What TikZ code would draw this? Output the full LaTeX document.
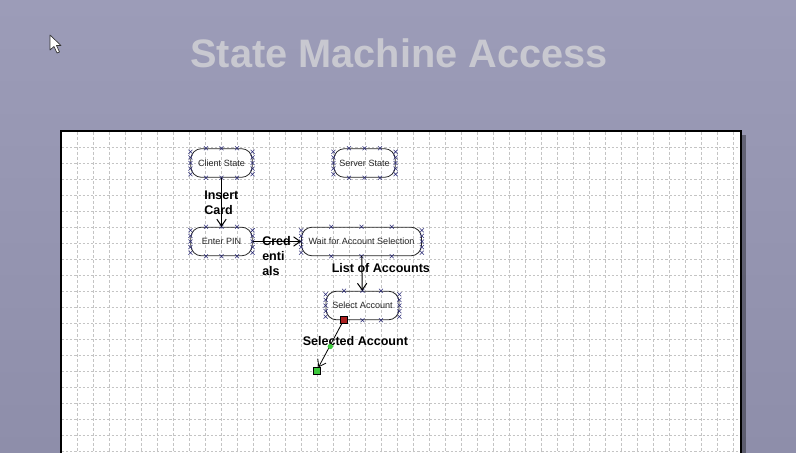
\documentclass[tikz,border=0pt]{standalone}
\usepackage{fontspec}
\setmainfont{Liberation Sans}
\usetikzlibrary{arrows.meta,calc}

\definecolor{backdrop}{RGB}{156,156,184}
\definecolor{backdropdark}{RGB}{142,142,170}
\definecolor{titlegray}{RGB}{200,200,208}
\definecolor{gridgray}{RGB}{196,196,196}
\definecolor{portblue}{RGB}{45,45,120}
\definecolor{portred}{RGB}{170,30,30}
\definecolor{portgreen}{RGB}{60,200,60}

% small connection crosses round a state
\newcommand\statemarks[1]{%
  \foreach \f in {0.25,0.5,0.75}{
    \draw[xmark] ($(#1.north west)!\f!(#1.north east)$) +(-1.5pt,-1.5pt) -- +(1.5pt,1.5pt) +(-1.5pt,1.5pt) -- +(1.5pt,-1.5pt);
    \draw[xmark] ($(#1.south west)!\f!(#1.south east)$) +(-1.5pt,-1.5pt) -- +(1.5pt,1.5pt) +(-1.5pt,1.5pt) -- +(1.5pt,-1.5pt);
  }
  \foreach \f in {0.12,0.31,0.5,0.69,0.88}{
    \draw[xmark] ($(#1.north west)!\f!(#1.south west)$) +(-1.5pt,-1.5pt) -- +(1.5pt,1.5pt) +(-1.5pt,1.5pt) -- +(1.5pt,-1.5pt);
    \draw[xmark] ($(#1.north east)!\f!(#1.south east)$) +(-1.5pt,-1.5pt) -- +(1.5pt,1.5pt) +(-1.5pt,1.5pt) -- +(1.5pt,-1.5pt);
  }}

\begin{document}
\begin{tikzpicture}[x=0.75pt,y=-0.75pt,
    state/.style={draw=black!85,line width=0.6pt,rectangle,rounded corners=8pt,
      minimum height=21.5pt,inner sep=0pt,text=black!85,font=\fontsize{6.8}{8}\selectfont},
    xmark/.style={draw=portblue,line width=0.4pt},
    trans/.style={draw=black,line width=0.75pt,-{Straight Barb[length=5pt,width=7pt]}},
    tlabel/.style={anchor=north west,inner sep=0pt,align=left,
      font=\bfseries\fontsize{9.4}{11.25}\selectfont},
    port/.style={draw=black,line width=0.4pt,minimum size=5pt,inner sep=0pt}]
  \useasboundingbox (0,0) rectangle (796,453);
  % backdrop and title
  \shade[top color=backdrop,bottom color=backdropdark] (0,0) rectangle (796,453);
  \node[text=titlegray,font=\bfseries\fontsize{29.8}{34}\selectfont] (title) at (399,53) {State Machine Access};
  % mouse pointer
  \draw[fill=white,draw=black!80,line width=0.5pt,line join=round]
    (50,35) -- (50,50) -- (54,46.5) -- (57,53) -- (59.5,52) -- (56.5,45.5) -- (61,45.5) -- cycle;
  % canvas with its shadow and grid
  \fill[black,opacity=0.35] (741,135) rectangle (746,453);
  \fill[white] (61,131) rectangle (741,460);
  \foreach \gx in {77,93,...,733}
    \draw[gridgray,line width=0.35pt,dash pattern=on 2.2pt off 1.5pt] (\gx,132) -- (\gx,453);
  \foreach \gy in {147,163,...,451}
    \draw[gridgray,line width=0.35pt,dash pattern=on 1.6pt off 1.5pt] (62,\gy) -- (740,\gy);
  \draw[black,line width=0.8pt] (61,460) -- (61,131) -- (741,131) -- (741,460);

  % states
  \node[state,minimum width=46pt] (client) at (221.5,163) {Client State};
  \node[state,minimum width=46pt] (server) at (364.5,163) {Server State};
  \node[state,minimum width=46pt] (pin) at (221.5,241.5) {Enter PIN};
  \node[state,minimum width=90pt] (wait) at (361.5,241.5) {Wait for Account Selection};
  \node[state,minimum width=54.75pt] (select) at (362.5,305.5) {Select Account};
  \statemarks{client}
  \statemarks{server}
  \statemarks{pin}
  \statemarks{wait}
  \statemarks{select}

  % ports of the selected transition
  \node[port,fill=portred] (selport) at (344,319.5) {};
  \node[port,fill=portgreen] (endport) at (316.5,371) {};
  \coordinate (midhandle) at (330.3,346.5);

  % transitions
  \draw[trans] (client) -- (pin);
  \draw[trans] (pin) -- (wait);
  \draw[trans] (wait) -- (select);
  \draw[trans,line width=0.6pt] (selport) -- (endport);

  % transition labels
  \node[tlabel] (insertlbl) at (204,191) {Insert\\Card};
  \node[tlabel] (credlbl) at (262,236) {Cred\\enti\\als};
  \node[tlabel] (listlbl) at (331.5,263) {List of Accounts};
  \node[tlabel] (selectedlbl) at (302.5,336) {Selected Account};
  \fill[portgreen] (midhandle) circle (2pt);
\end{tikzpicture}
\end{document}
